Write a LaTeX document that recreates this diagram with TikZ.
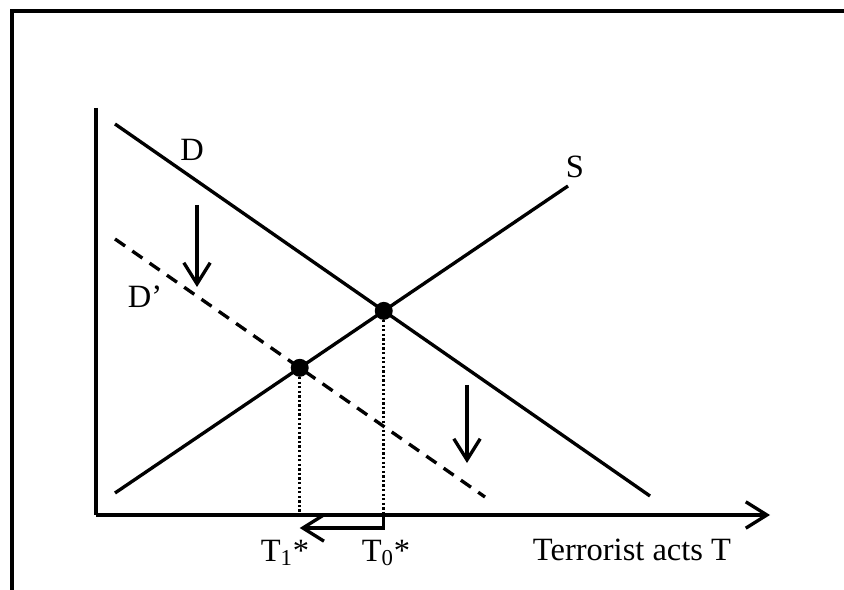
\documentclass[tikz,border=0pt]{standalone}
\usepackage{fontspec}
\setmainfont{Liberation Serif}
\usetikzlibrary{arrows.meta,intersections}

\begin{document}
\begin{tikzpicture}[x=0.02cm, y=-0.02cm,
    curve/.style={line width=1.9pt},
    guide/.style={line width=1.7pt, dash pattern=on 1.3pt off 1.3pt},
    move/.style={line width=1.9pt, -{Straight Barb[length=12pt, width=15pt, line width=1.9pt]}},
    lbl/.style={font=\fontsize{18.5}{22}\selectfont, inner sep=0pt},
    eqdot/.style={circle, fill, inner sep=0pt, minimum size=0.36cm},
]
\useasboundingbox (0,0) rectangle (844,590);
% frame
\draw[line width=1.8pt] (12,590) -- (12,11) -- (844,11);

% axes
\coordinate (origin) at (96,515);
\coordinate (ytop) at (96,108);
\coordinate (xend) at (770,515);
\draw[line width=1.8pt] (ytop) -- (origin);
\draw[move] (origin) -- (xend);

% curves
\draw[curve, name path=dem] (115,124) -- (650,496);
\draw[curve, name path=sup] (115,493) -- (568,186);
\draw[curve, dash pattern=on 7pt off 5pt, name path=demnew] (115,239) -- (485,497);

% equilibria
\path[name intersections={of=dem and sup, by=e0}];
\path[name intersections={of=demnew and sup, by=e1}];
\coordinate (t0) at (e0 |- origin);
\coordinate (t1) at (e1 |- origin);
\draw[guide] (e0) -- (t0);
\draw[guide] (e1) -- (t1);
\node[eqdot] at (e0) {};
\node[eqdot] at (e1) {};

% shifts
\coordinate (d1top) at (197,205);
\coordinate (d1tip) at (197,287);
\coordinate (d2top) at (467,385);
\coordinate (d2tip) at (467,463);
\coordinate (t0low) at ([yshift=-0.26cm]t0);
\draw[move] (d1top) -- (d1tip);
\draw[move] (d2top) -- (d2tip);
\draw[move] (t0) -- (t0low) -- (t1 |- t0low);

% labels
\node[lbl] (labD) at (192,150) {D};
\node[lbl] (labS) at (575,167) {S};
\node[lbl] (labDp) at (145,297) {D’};
\node[lbl] (labT1) at (285,553) {T\textsubscript{1}*};
\node[lbl] (labT0) at (386,553) {T\textsubscript{0}*};
\node[lbl] (labT) at (632,550) {Terrorist acts T};
\end{tikzpicture}
\end{document}
